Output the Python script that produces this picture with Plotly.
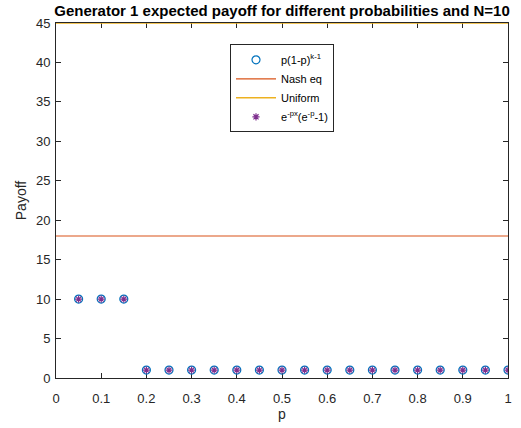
import plotly.graph_objects as go

# Probabilities and payoffs
p_values = [0.05, 0.10, 0.15, 0.20, 0.25, 0.30, 0.35, 0.40, 0.45, 0.50,
            0.55, 0.60, 0.65, 0.70, 0.75, 0.80, 0.85, 0.90, 0.95, 1.00]
payoff_geom = [10, 10, 10, 1, 1, 1, 1, 1, 1, 1, 1, 1, 1, 1, 1, 1, 1, 1, 1, 1]
payoff_exp = [10, 10, 10, 1, 1, 1, 1, 1, 1, 1, 1, 1, 1, 1, 1, 1, 1, 1, 1, 1]
nash_eq = 18
uniform = 45
x_range = [0, 1]

x_ticks = [0, 0.1, 0.2, 0.3, 0.4, 0.5, 0.6, 0.7, 0.8, 0.9, 1]
x_tick_text = ["0", "0.1", "0.2", "0.3", "0.4", "0.5", "0.6", "0.7", "0.8", "0.9", "1"]
y_ticks = [0, 5, 10, 15, 20, 25, 30, 35, 40, 45]

FONT = "Liberation Sans, Arial, sans-serif"

fig = go.Figure()
fig.add_trace(go.Scatter(
    x=p_values, y=payoff_geom, mode="markers", name="p(1-p)<sup>k-1</sup>",
    legendgroup="a", legendrank=1,
    marker=dict(symbol="circle-open", size=8, color="#0072BD", line=dict(width=1.2)),
))
fig.add_trace(go.Scatter(
    x=x_range, y=[nash_eq, nash_eq], mode="lines", name="Nash eq",
    legendgroup="b", legendrank=2,
    line=dict(color="#D95319", width=1.2),
))
fig.add_trace(go.Scatter(
    x=p_values, y=payoff_exp, mode="markers", name="e<sup>-px</sup>(e<sup>-p</sup>-1)",
    legendgroup="d", legendrank=4,
    marker=dict(symbol="asterisk-open", size=6, color="#7E2F8E", line=dict(width=1.2, color="#7E2F8E")),
))
# Uniform payoff sits on the top edge, so draw it as a shape above the frame
fig.add_shape(
    type="line", xref="x", yref="y",
    x0=x_range[0], x1=x_range[1], y0=uniform, y1=uniform,
    line=dict(color="#EDB120", width=1.5), layer="above",
    showlegend=True, name="Uniform", legendgroup="c", legendrank=3,
)

axis_common = dict(
    showgrid=False, zeroline=False, showline=True, mirror="ticks",
    linecolor="#262626", linewidth=1, ticks="inside", ticklen=5,
    tickcolor="#262626", tickfont=dict(family=FONT, size=13, color="#262626"),
    layer="below traces", automargin=False,
)

fig.update_layout(
    width=521, height=428,
    margin=dict(l=56, r=13, t=23, b=50),
    paper_bgcolor="white", plot_bgcolor="white",
    font=dict(family=FONT, color="#262626"),
    title=dict(
        text="<b>Generator 1 expected payoff for different probabilities and N=10</b>",
        x=0.5, xref="paper", xanchor="center",
        y=1 - 10.5 / 428, yref="container", yanchor="middle",
        font=dict(family=FONT, size=15, color="black"),
        automargin=False,
    ),
    xaxis=dict(range=x_range, tickvals=x_ticks, ticktext=x_tick_text,
               ticklabelstandoff=8,
               title=dict(text="p", font=dict(family=FONT, size=14), standoff=4),
               **axis_common),
    yaxis=dict(range=[0, 45], tickvals=y_ticks, ticklabelstandoff=2,
               title=dict(text="Payoff", font=dict(family=FONT, size=14), standoff=6),
               **axis_common),
    showlegend=True,
    legend=dict(
        x=0.5, xanchor="center", y=0.94, yanchor="top",
        bgcolor="white", bordercolor="#262626", borderwidth=1,
        font=dict(family=FONT, size=11, color="black"),
        tracegroupgap=0, itemwidth=40,
    ),
)

fig.write_html("out.html")
